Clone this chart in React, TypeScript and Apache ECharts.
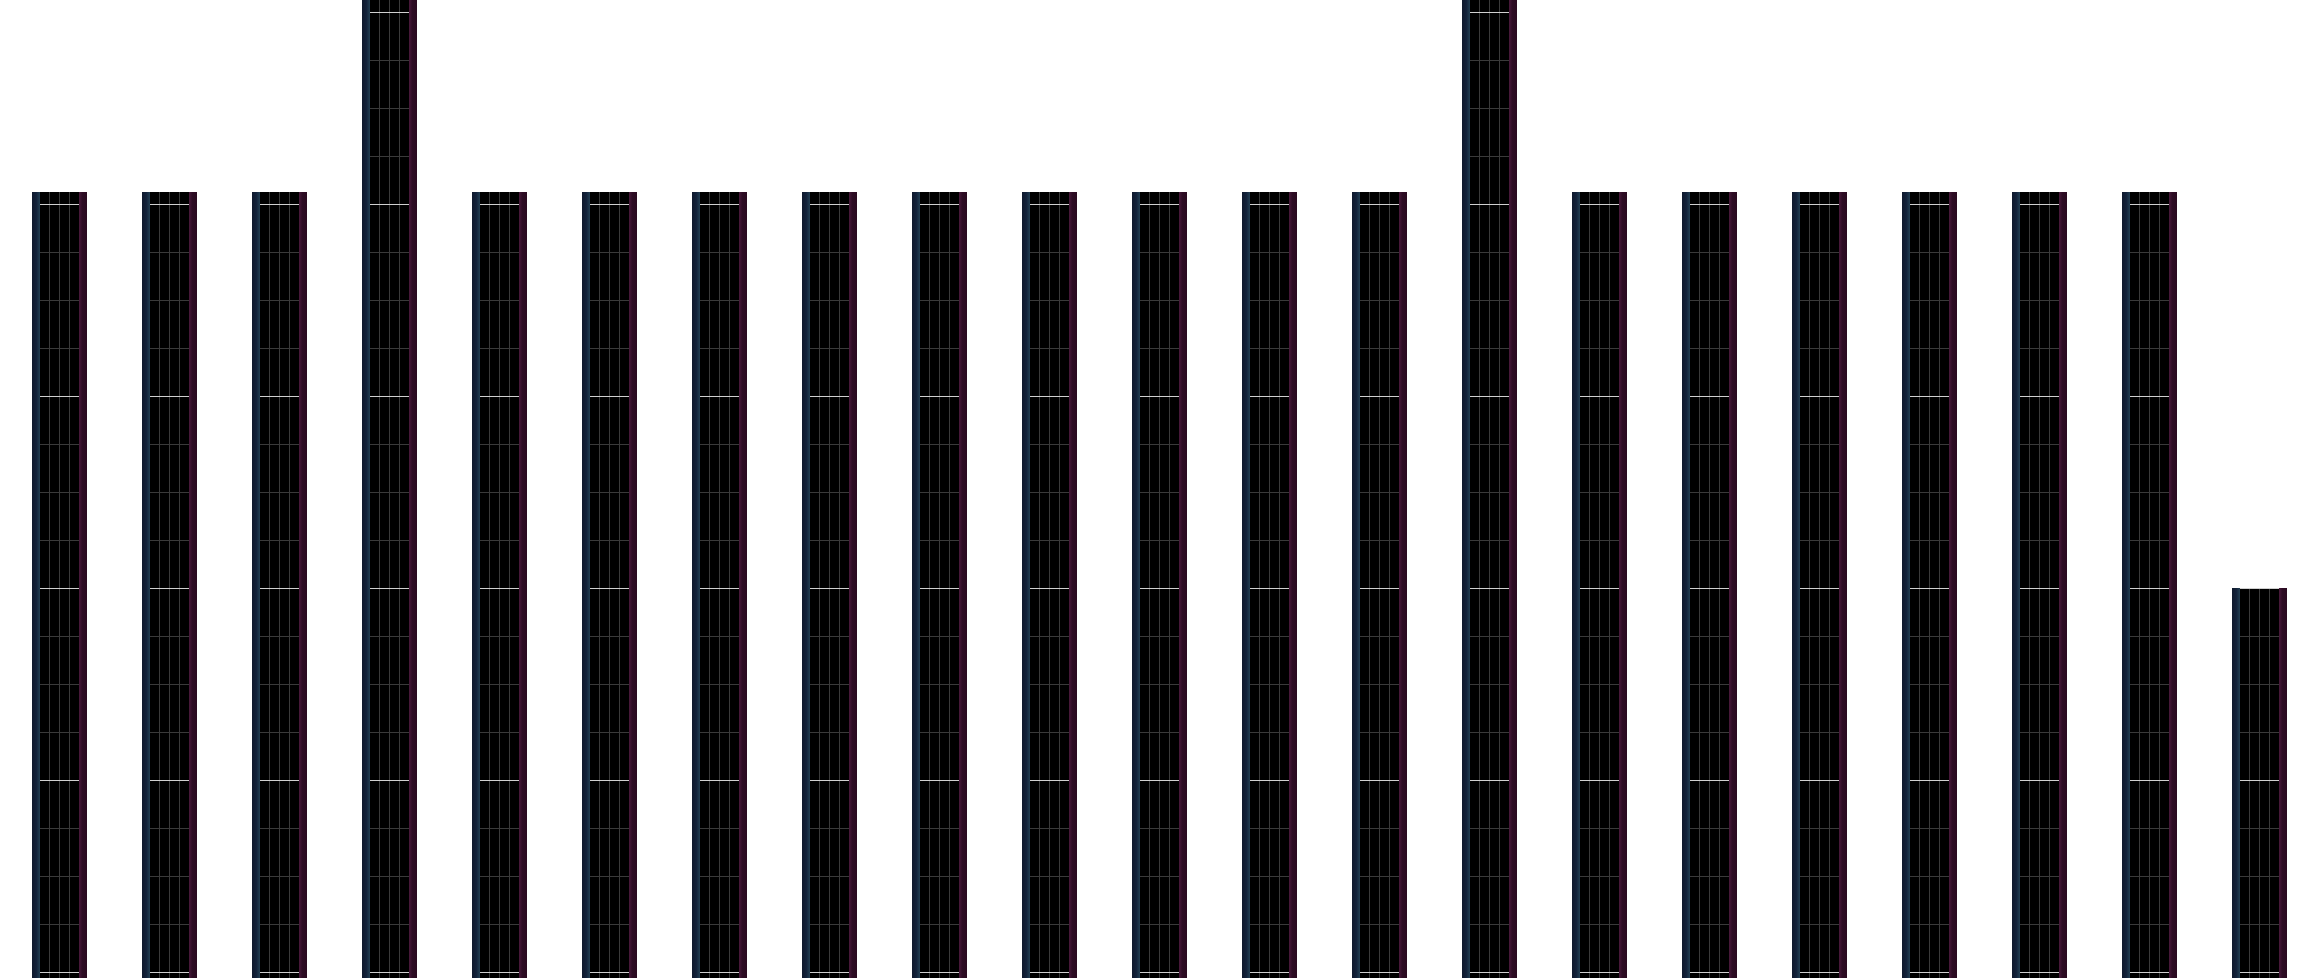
import React, { useEffect, useRef } from 'react';
import * as echarts from 'echarts';

const categories = ['1', '2', '3', '4', '5', '6', '7', '8', '9', '10', '11', '12', '13', '14', '15', '16', '17', '18', '19', '20', '21'];
const values = [100, 100, 100, 125, 100, 100, 100, 100, 100, 100, 100, 100, 100, 125, 100, 100, 100, 100, 100, 100, 50];
const axisMin = 0;
const axisMax = 125;

function makeTile(): HTMLCanvasElement {
  const c = document.createElement('canvas');
  c.width = 110;
  c.height = 192;
  const g = c.getContext('2d') as CanvasRenderingContext2D;
  g.fillStyle = '#000000';
  g.fillRect(0, 0, 110, 192);
  // left (blue) edge
  const lg = g.createLinearGradient(32, 0, 40, 0);
  lg.addColorStop(0, '#0f192c');
  lg.addColorStop(0.55, '#13223a');
  lg.addColorStop(1, '#223f52');
  g.fillStyle = lg;
  g.fillRect(32, 0, 8, 192);
  // right (magenta) edge
  const rg = g.createLinearGradient(79, 0, 87, 0);
  rg.addColorStop(0, '#4a1a3c');
  rg.addColorStop(0.4, '#2e0d25');
  rg.addColorStop(1, '#2a0a20');
  g.fillStyle = rg;
  g.fillRect(79, 0, 8, 192);
  // inner grid
  g.fillStyle = '#3a3a3a';
  [49, 59, 69].forEach((x) => g.fillRect(x, 0, 1, 192));
  [66, 114, 162].forEach((y) => g.fillRect(40, y, 39, 1));
  g.fillStyle = '#cfcfcf';
  g.fillRect(40, 18, 39, 1);
  return c;
}

export default function App() {
  const ref = useRef<HTMLDivElement>(null);
  useEffect(() => {
    if (!ref.current) return;
    const chart = echarts.init(ref.current, undefined, { renderer: 'svg' });
    const tile = makeTile();
    chart.setOption({
      animation: false,
      backgroundColor: '#ffffff',
      grid: { left: 4.5, right: 5.5, top: 0, bottom: 0, containLabel: false },
      xAxis: {
        type: 'category',
        data: categories,
        show: false,
        boundaryGap: true,
      },
      yAxis: {
        type: 'value',
        min: axisMin,
        max: axisMax,
        show: false,
        splitLine: { show: false },
      },
      series: [
        {
          type: 'bar',
          data: values,
          barWidth: 55,
          clip: false,
          itemStyle: {
            color: {
              image: tile,
              repeat: 'repeat',
              imageWidth: 110,
              imageHeight: 192,
            } as any,
          },
        },
      ],
    });
    return () => chart.dispose();
  }, []);
  return (
    <div
      ref={ref}
      style={{ position: 'fixed', left: 0, top: -6, width: 2320, height: 990, background: '#ffffff' }}
    />
  );
}
